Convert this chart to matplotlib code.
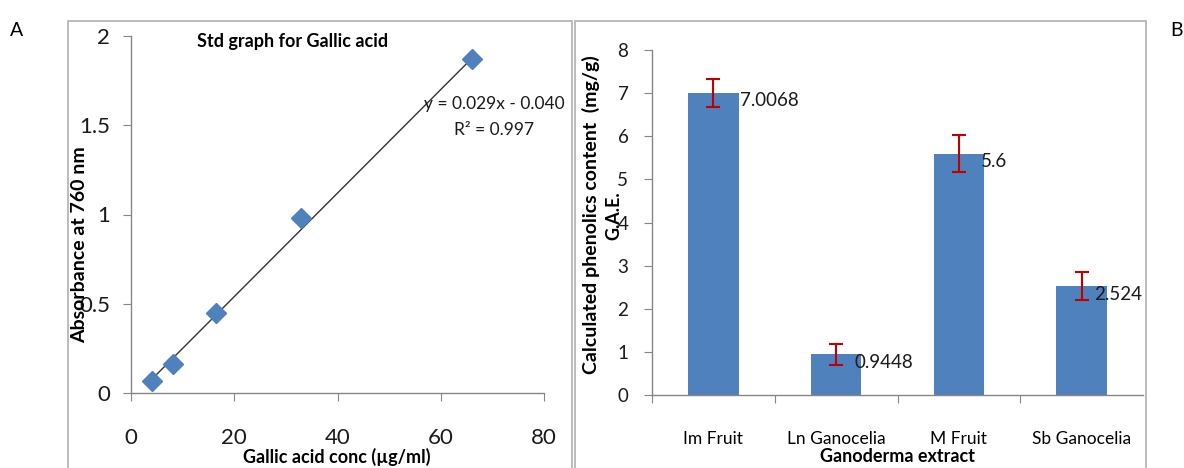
import matplotlib.pyplot as plt
from matplotlib.patches import Rectangle

plt.rcParams['font.family'] = ['Lato', 'DejaVu Sans']

# Gallic acid standard curve
conc = [4.1, 8.2, 16.5, 33.0, 66.0]
absorb = [0.07, 0.16, 0.45, 0.98, 1.87]
slope = 0.029
intercept = -0.040
r_sq = 0.997

# Phenolics content of the extracts (mg/g G.A.E.)
extracts = ['Im Fruit', 'Ln Ganocelia', 'M Fruit', 'Sb Ganocelia']
phenolics = [7.0068, 0.9448, 5.6, 2.524]
phen_err = [0.33, 0.24, 0.42, 0.32]

blue = '#4F81BD'
axis_grey = '#868686'
txt = '#1a1a1a'

fig = plt.figure(figsize=(11.84, 4.68), dpi=100)
W, H = 1184, 468

def px(x0, y0, x1, y1):
    return [x0 / W, 1 - y1 / H, (x1 - x0) / W, (y1 - y0) / H]

# panel frames
for x0, x1 in [(68, 572), (575, 1146)]:
    fig.patches.append(Rectangle((x0 / W, -0.01), (x1 - x0) / W, 1 - 21 / H + 0.01,
                                 transform=fig.transFigure, fill=False,
                                 edgecolor='#B0B0B0', lw=1.2))

fig.text(17 / W, 1 - 30 / H, 'A', fontsize=14, va='center', ha='center')
fig.text(1176 / W, 1 - 30 / H, 'B', fontsize=14, va='center', ha='center')


def style_axes(ax):
    for s in ['top', 'right']:
        ax.spines[s].set_visible(False)
    for s in ['left', 'bottom']:
        ax.spines[s].set_color(axis_grey)
        ax.spines[s].set_linewidth(1)
    ax.tick_params(direction='out', length=6, color=axis_grey, labelcolor=txt)


# ---- A: standard graph
ax1 = fig.add_axes(px(131, 36, 544, 393))
style_axes(ax1)
ax1.plot(conc, absorb, 'D', color=blue, markersize=10, zorder=3)
fit_x = [conc[0], conc[-1]]
ax1.plot(fit_x, [slope * x + intercept for x in fit_x], color='#333333', lw=1, zorder=2)
ax1.set_xlim(0, 80)
ax1.set_ylim(0, 2)
ax1.set_xticks([0, 20, 40, 60, 80])
ax1.set_yticks([0, 0.5, 1, 1.5, 2])
ax1.set_yticklabels(['0', '0.5', '1', '1.5', '2'])
ax1.tick_params(axis='y', labelsize=16, pad=9)
ax1.tick_params(axis='x', labelsize=16, pad=19)
ax1.text(0.392, 0.985, 'Std graph for Gallic acid', transform=ax1.transAxes,
         fontsize=13, fontweight='bold', ha='center', va='center')
ax1.text(0.88, 0.81, f'y = {slope:.3f}x - {abs(intercept):.3f}', transform=ax1.transAxes,
         fontsize=12.5, ha='center', va='center', color=txt)
ax1.text(0.88, 0.738, f'R² = {r_sq}', transform=ax1.transAxes,
         fontsize=12.5, ha='center', va='center', color=txt)
fig.text(337 / W, 1 - 457 / H, 'Gallic acid conc (µg/ml)', fontsize=13,
         fontweight='bold', ha='center', va='center')
fig.text(80 / W, 1 - 245 / H, 'Absorbance at 760 nm', fontsize=14, fontweight='bold',
         rotation=90, ha='center', va='center')

# ---- B: phenolics content
ax2 = fig.add_axes(px(652, 50, 1143, 395))
style_axes(ax2)
xpos = list(range(len(extracts)))
ax2.bar(xpos, phenolics, width=0.41, color=blue, zorder=2)
ax2.errorbar(xpos, phenolics, yerr=phen_err, fmt='none', ecolor='#C00000',
             elinewidth=1.5, capsize=5, capthick=1.5, zorder=3)
label_dx = [27, 18, 22, 12]
for i, v in enumerate(phenolics):
    ax2.annotate(f'{v:g}', (xpos[i], v), xytext=(label_dx[i], -8),
                 textcoords='offset pixels', fontsize=13.5, ha='left', va='center',
                 color=txt)
ax2.set_xlim(-0.5, 3.5)
ax2.set_ylim(0, 8)
ax2.set_yticks(range(9))
ax2.set_xticks([-0.5, 0.5, 1.5, 2.5])
ax2.set_xticklabels([])
ax2.set_xticks(xpos, minor=True)
ax2.set_xticklabels(extracts, minor=True)
ax2.tick_params(axis='x', which='minor', length=0, pad=26, labelsize=12.5)
ax2.tick_params(axis='y', labelsize=13.5, pad=11)
fig.text(591 / W, 1 - 215 / H, 'Calculated phenolics content  (mg/g)', fontsize=14,
         fontweight='bold', rotation=90, ha='center', va='center')
fig.text(614 / W, 1 - 216 / H, 'G.A.E.', fontsize=13,
         fontweight='bold', rotation=90, ha='center', va='center')
fig.text(898 / W, 1 - 457 / H, 'Ganoderma extract', fontsize=13, fontweight='bold',
         ha='center', va='center')

fig.savefig('out.png', dpi=100)
